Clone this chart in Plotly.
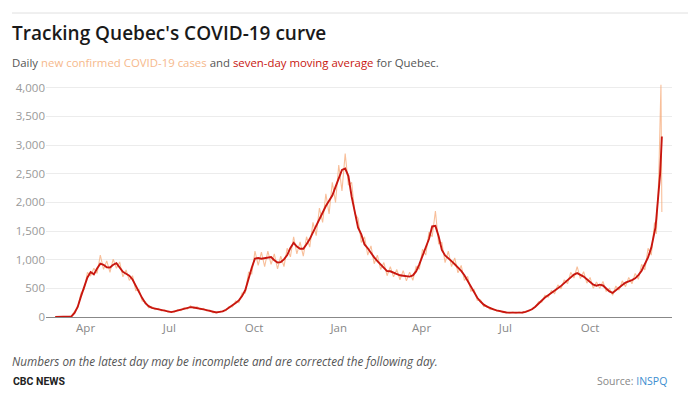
import pandas as pd
import plotly.graph_objects as go

# ---------------- data ----------------
# Half-weekly samples (every 3.5 days starting 2020-02-28) up to 2021-12-10
grid_start = "2020-02-28"
grid_step_hours = 84  # 3.5 days

avg_grid = [
    0, 0, 0, 0, 3, 8, 70, 180, 360, 530,
    690, 785, 744, 845, 930, 910, 868, 865, 912, 940,
    870, 787, 755, 722, 655, 540, 430, 330, 240, 190,
    160, 148, 133, 121, 109, 97, 85, 99, 113, 126,
    143, 161, 172, 166, 159, 147, 133, 120, 105, 82,
    80, 90, 98, 127, 164, 200, 245, 290, 365, 470,
    680, 860, 1020, 1030, 1017, 1030, 1040, 1045, 990, 950,
    958, 1005, 1080, 1205, 1295, 1230, 1190, 1190, 1270, 1360,
    1478, 1595, 1720, 1840, 1936, 2030, 2120, 2270, 2405, 2565,
    2590, 2460, 2100, 1820, 1558, 1440, 1265, 1200, 1110, 1040,
    975, 915, 855, 801, 798, 775, 745, 728, 720, 712,
    704, 725, 795, 920, 1060, 1190, 1360, 1580, 1590, 1410,
    1170, 1075, 1030, 975, 920, 865, 805, 730, 635, 535,
    430, 335, 270, 215, 180, 150, 132, 115, 100, 88,
    78, 76, 75, 75, 76, 78, 90, 112, 135, 180,
    238, 290, 340, 380, 415, 453, 500, 543, 590, 638,
    688, 740, 765, 740, 705, 660, 615, 565, 545, 565,
    550, 505, 445, 420, 470, 515, 560, 600, 620, 645,
    675, 730, 807, 910, 1040, 1210, 1480,
]

raw_grid = [
    0, 0, 1, 2, 5, 15, 100, 160, 420, 480,
    780, 720, 850, 760, 1080, 830, 980, 780, 1010, 850,
    960, 700, 820, 640, 720, 460, 480, 280, 270, 160,
    180, 130, 150, 105, 125, 85, 95, 85, 130, 110,
    165, 140, 195, 150, 180, 130, 150, 105, 120, 70,
    90, 78, 110, 110, 185, 175, 280, 250, 420, 420,
    780, 750, 1150, 900, 1130, 880, 1150, 920, 1100, 840,
    1060, 880, 1200, 1050, 1400, 1100, 1310, 1060, 1400, 1220,
    1650, 1420, 1900, 1650, 2150, 1800, 2350, 2000, 2650, 2200,
    2850, 2300, 2350, 1800, 1720, 1300, 1400, 1080, 1240, 930,
    1080, 830, 950, 720, 880, 700, 830, 650, 810, 630,
    780, 640, 880, 830, 1180, 1080, 1480, 1400, 1850, 1280,
    1300, 950, 1150, 880, 1030, 770, 900, 640, 710, 450,
    480, 290, 300, 180, 200, 130, 145, 100, 110, 75,
    88, 68, 84, 68, 86, 70, 100, 102, 150, 170,
    265, 260, 380, 345, 460, 410, 560, 490, 650, 580,
    780, 680, 880, 670, 790, 590, 690, 500, 610, 500,
    620, 450, 500, 380, 540, 470, 630, 530, 690, 580,
    760, 660, 920, 820, 1200, 1080, 1650,
]

# Daily values for the final days
tail_dates = ["2021-12-11", "2021-12-12", "2021-12-13", "2021-12-14",
              "2021-12-15", "2021-12-16", "2021-12-17", "2021-12-18"]
avg_tail = [1560, 1720, 1880, 2030, 2230, 2480, 2800, 3150]
raw_tail = [1600, 1450, 1900, 2150, 2700, 3300, 4050, 1830]

y_ticks = [0, 500, 1000, 1500, 2000, 2500, 3000, 3500, 4000]
y_tick_labels = ["0", "500", "1,000", "1,500", "2,000", "2,500", "3,000", "3,500", "4,000"]
x_ticks = ["2020-04-01", "2020-07-01", "2020-10-01", "2021-01-01",
           "2021-04-01", "2021-07-01", "2021-10-01"]
x_tick_labels = ["Apr", "Jul", "Oct", "Jan", "Apr", "Jul", "Oct"]

# ---------------- build ----------------
grid_dates = [pd.Timestamp(grid_start) + pd.Timedelta(hours=grid_step_hours * i)
              for i in range(len(avg_grid))]
dates = grid_dates + [pd.Timestamp(d) for d in tail_dates]
avg_values = avg_grid + avg_tail
raw_values = raw_grid + raw_tail

FONT = "Open Sans"
RED = "#c8160f"
ORANGE = "#f6b98c"

fig = go.Figure()
fig.add_trace(go.Scatter(x=dates, y=raw_values, mode="lines",
                         line=dict(color="rgba(245,170,120,0.75)", width=1.1),
                         hoverinfo="skip", showlegend=False))
fig.add_trace(go.Scatter(x=dates, y=avg_values, mode="lines",
                         line=dict(color=RED, width=1.9),
                         showlegend=False))

L, R, T, B = 46, 28, 82, 77
W, H = 700, 394
pw, ph = W - L - R, H - T - B

def px(xpix):
    return (xpix - L) / pw

def py(ypix):
    return (H - B - ypix) / ph

fig.update_layout(
    width=W, height=H,
    margin=dict(l=L, r=R, t=T, b=B),
    paper_bgcolor="white", plot_bgcolor="white",
    font=dict(family=FONT, color="#666"),
    xaxis=dict(range=["2020-02-18", "2021-12-29"], tickvals=x_ticks,
               ticktext=x_tick_labels, showgrid=False, zeroline=False,
               showline=True, linecolor="#888", linewidth=1,
               ticks="", tickfont=dict(size=11.5, color="#888"),
               fixedrange=True),
    yaxis=dict(range=[0, 4100], tickvals=y_ticks, ticktext=y_tick_labels,
               showgrid=True, gridcolor="#ececec", gridwidth=1,
               zeroline=False, showline=False, ticks="",
               tickfont=dict(size=11.5, color="#999"), fixedrange=True),
    annotations=[
        dict(text="Tracking Quebec's COVID-19 curve", xref="paper", yref="paper",
             x=px(10), y=py(33), xanchor="left", yanchor="middle", showarrow=False,
             font=dict(family=FONT, size=19, color="#1a1a1a", weight=600)),
        dict(text=("Daily <span style='color:%s'>new confirmed COVID-19 cases</span> and "
                   "<span style='color:%s'>seven-day moving average</span> for Quebec."
                   % (ORANGE, RED)),
             xref="paper", yref="paper", x=px(10), y=py(62), xanchor="left",
             yanchor="middle", showarrow=False,
             font=dict(family=FONT, size=11.4, color="#555")),
        dict(text="<i>Numbers on the latest day may be incomplete and are corrected the following day.</i>",
             xref="paper", yref="paper", x=px(10), y=py(361), xanchor="left",
             yanchor="middle", showarrow=False,
             font=dict(family=FONT, size=11.7, color="#555")),
        dict(text="<b>CBC NEWS</b>", xref="paper", yref="paper", x=px(11), y=py(381),
             xanchor="left", yanchor="middle", showarrow=False,
             font=dict(family="Liberation Sans Narrow, Roboto", size=10.5, color="#222")),
        dict(text="Source: <span style='color:#3b8ed0'>INSPQ</span>",
             xref="paper", yref="paper", x=px(669), y=py(381), xanchor="right",
             yanchor="middle", showarrow=False,
             font=dict(family=FONT, size=10.5, color="#888")),
    ],
    shapes=[
        dict(type="line", xref="paper", yref="paper", x0=px(12), x1=px(688),
             y0=py(13), y1=py(13), line=dict(color="#e0e0e0", width=1)),
    ],
)

fig.write_html("out.html", config={"displayModeBar": False},
               post_script="document.body.style.margin='0';document.body.style.padding='0';")
